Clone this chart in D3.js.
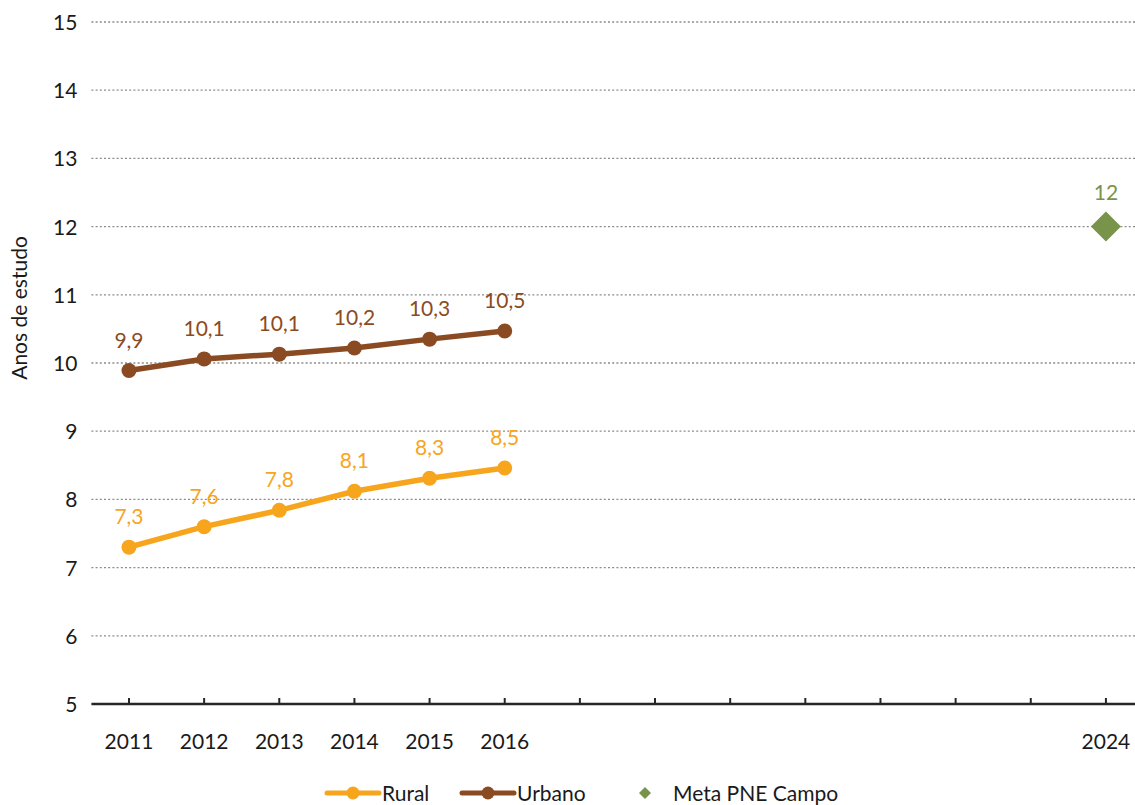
<!DOCTYPE html>
<html><head><meta charset="utf-8">
<script src="https://cdn.jsdelivr.net/npm/d3@7"></script>
<style>body{margin:0;background:#fff}svg{display:block;font-family:Lato, "Open Sans", sans-serif}</style>
</head><body>
<svg id="c" width="1135" height="805"></svg>
<script>
const categories = ["2011","2012","2013","2014","2015","2016","2017","2018","2019","2020","2021","2022","2023","2024"];
const shownLabels = ["2011","2012","2013","2014","2015","2016","2024"];
const years = ["2011","2012","2013","2014","2015","2016"];
const rural = [7.30, 7.60, 7.84, 8.12, 8.31, 8.46];
const urbano = [9.89, 10.06, 10.13, 10.22, 10.35, 10.47];
const ruralLabels = ["7,3","7,6","7,8","8,1","8,3","8,5"];
const urbanoLabels = ["9,9","10,1","10,1","10,2","10,3","10,5"];
const metaYear = ["2024"];
const metaValue = [12];
const metaLabels = ["12"];
const yTicks = [5,6,7,8,9,10,11,12,13,14,15];
const legendNames = ["Rural","Urbano","Meta PNE Campo"];
const yTitle = "Anos de estudo";

(function(){
const C_RURAL = "#F7A51D", C_URB = "#8B4B22", C_META = "#78934A";
const FS = 21;
const svg = d3.select("#c");
const pl = 91.4, pr = 1143.5, pt = 22, pb = 704;
const x = d3.scaleBand().domain(categories).range([pl, pr]);
const cx = d => x(d) + x.bandwidth()/2;
const y = d3.scaleLinear().domain([5,15]).range([pb, pt]);

// grid
svg.append("g").selectAll("line").data(yTicks.filter(t=>t>5)).join("line")
  .attr("x1", pl).attr("x2", 1135).attr("y1", d=>y(d)).attr("y2", d=>y(d))
  .attr("stroke", "#8c8c8c").attr("stroke-width", 1.3).attr("stroke-dasharray", "2,2.2");

// y axis labels
const ya = svg.append("g").attr("transform", `translate(${pl},0)`)
  .call(d3.axisLeft(y).tickValues(yTicks).tickSize(0).tickPadding(14).tickFormat(d3.format("d")));
ya.select(".domain").remove();
ya.selectAll("text").attr("font-size", FS).attr("fill", "#1a1a1a").attr("font-family", "Lato, sans-serif")
  .attr("dy", "0.36em");

// x axis
const xa = svg.append("g").attr("transform", `translate(0,${pb})`)
  .call(d3.axisBottom(x).tickSizeInner(-6).tickSizeOuter(0).tickPadding(22)
    .tickFormat(d => shownLabels.includes(d) ? d : ""));
xa.select(".domain").attr("stroke", "#262626").attr("stroke-width", 2.5).attr("d", `M${pl},0H1135`);
xa.selectAll(".tick line").attr("stroke", "#262626").attr("stroke-width", 2);
xa.selectAll("text").attr("font-size", FS).attr("fill", "#1a1a1a").attr("font-family", "Lato, sans-serif")
  .attr("y", 45).attr("dy", 0);

// y title
svg.append("text").attr("transform", `translate(27,308) rotate(-90)`)
  .attr("text-anchor", "middle").attr("font-size", FS).attr("fill", "#1a1a1a").text(yTitle);

function series(vals, labels, color) {
  const pts = years.map((yr,i)=>[cx(yr), y(vals[i])]);
  svg.append("path").attr("d", d3.line()(pts)).attr("fill","none").attr("stroke",color)
    .attr("stroke-width", 5.5).attr("stroke-linejoin","round");
  svg.append("g").selectAll("circle").data(pts).join("circle")
    .attr("cx", d=>d[0]).attr("cy", d=>d[1]).attr("r", 7.5).attr("fill", color);
  svg.append("g").selectAll("text").data(pts).join("text")
    .attr("x", d=>d[0]).attr("y", d=>d[1]-23).attr("text-anchor","middle")
    .attr("font-size", FS).attr("fill", color).text((d,i)=>labels[i]);
}
series(urbano, urbanoLabels, C_URB);
series(rural, ruralLabels, C_RURAL);

// meta diamond
metaYear.forEach((yr,i)=>{
  const px = cx(yr), py = y(metaValue[i]), h = 15;
  svg.append("path").attr("d", `M${px},${py-h}L${px+h},${py}L${px},${py+h}L${px-h},${py}Z`).attr("fill", C_META);
  svg.append("text").attr("x", px).attr("y", py-27).attr("text-anchor","middle")
    .attr("font-size", FS).attr("fill", C_META).text(metaLabels[i]);
});

// legend
const ly = 793;
const lg = svg.append("g").attr("font-size", FS).attr("fill", "#1a1a1a");
[[C_RURAL, 327, legendNames[0]], [C_URB, 462, legendNames[1]]].forEach(([c, x0, name])=>{
  lg.append("line").attr("x1", x0).attr("x2", x0+52).attr("y1", ly).attr("y2", ly)
    .attr("stroke", c).attr("stroke-width", 5).attr("stroke-linecap","round");
  lg.append("circle").attr("cx", x0+26).attr("cy", ly).attr("r", 6.5).attr("fill", c);
  lg.append("text").attr("x", x0+55).attr("y", ly+8).text(name);
});
lg.append("path").attr("d", `M645,${ly-6}L651,${ly}L645,${ly+6}L639,${ly}Z`).attr("fill", C_META);
lg.append("text").attr("x", 673).attr("y", ly+8).text(legendNames[2]);
})();
</script>
</body></html>
